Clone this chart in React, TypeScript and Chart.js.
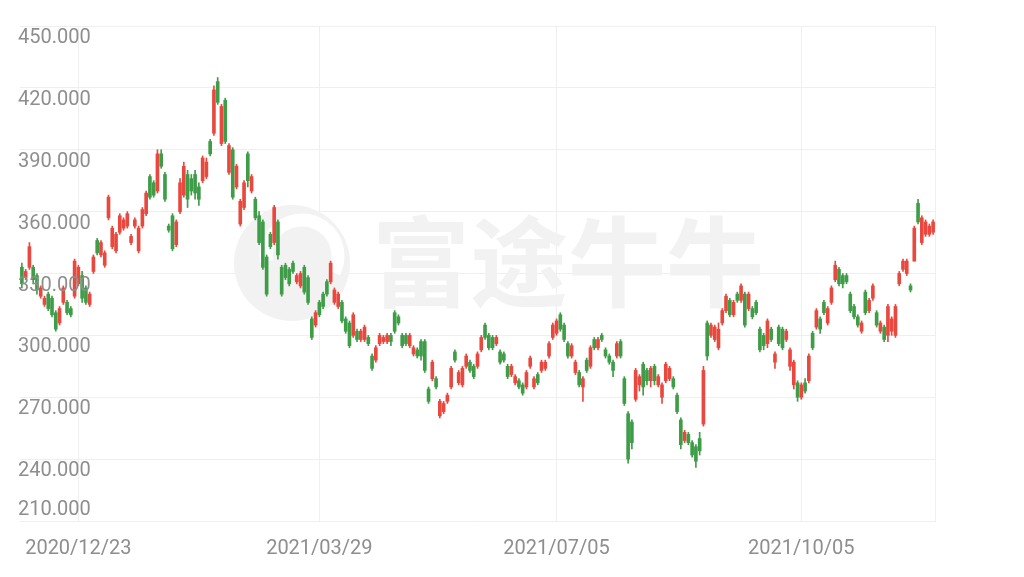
import React, { useEffect, useRef } from 'react';
import { Chart, registerables } from 'chart.js';

Chart.register(...registerables);

// Each candle: [open, close, high, low]
const segA = [
  [333,325,335,323],[328,331,332,327],[333,343,345,332],[333,327,334,325],[329,322,330,320],
  [319,323,324,318],[315,318,319,314],[320,313,321,312],[318,310,319,309],[311,303,312,302],
  [306,313,314,305],[316,323,324,315],[316,311,317,310],[313,310,314,309],[319,336,337,318],
  [325,333,334,324],[329,318,331,316],[323,316,324,315],[315,320,321,314],[331,338,339,330],
  [346,340,347,339],[339,345,346,338],[334,340,341,333],[357,367,368,356],[343,352,353,342],
  [341,349,350,340],[350,358,359,349],[352,356,357,351],[353,359,360,352],[345,348,349,344],
  [353,356,357,352],[341,352,353,340],[353,361,362,352],[359,369,370,358],[377,367,378,366],
  [374,368,375,367],[370,388,390,369],[388,382,390,381],[378,366,379,365],[353,351,354,350],
  [358,342,359,341],
];
const segB = [
  [344,355,356,343],[360,374,376,359],[368,382,384,367],[378,366,380,362],[376,370,378,368],
  [378,369,380,366],[372,366,374,363],[375,386,387,374],[377,384,386,376],[394,388,395,387],
  [398,419,421,397],[423,413,425,412],[393,411,412,392],[414,394,415,393],[379,392,393,378],
  [390,367,391,366],[372,382,383,371],[354,365,366,353],[362,374,375,361],[388,375,389,372],
  [370,377,378,369],[366,357,367,356],[358,345,360,344],[355,333,356,332],[338,320,339,319],
  [349,343,350,342],[345,362,363,344],[355,339,356,337],[333,320,334,319],[334,328,335,327],
  [332,325,333,324],[335,331,336,330],[326,329,330,325],[324,330,331,323],[333,321,334,320],
  [328,316,329,315],[308,299,309,298],[305,311,312,304],[316,310,317,309],[320,314,321,313],
  [326,320,327,319],[326,335,336,325],
];
const segC = [
  [316,322,323,315],[314,320,321,313],[316,307,317,306],[308,302,309,301],[306,295,307,294],
  [300,310,311,299],[302,298,303,297],[298,302,303,297],[298,304,305,297],[299,296,300,295],
  [290,284,291,283],[288,294,295,287],[296,300,301,295],[297,299,300,296],[297,300,301,296],
  [300,297,301,295],[311,302,312,301],[309,306,310,305],[300,295,301,294],[300,296,301,295],
  [295,300,301,294],[291,294,295,290],[293,290,294,289],[297,290,298,288],[297,283,298,282],
  [274,268,275,267],[279,287,288,278],[279,275,280,274],[261,268,269,260],[263,267,268,262],
  [268,271,272,267],[275,284,285,274],[292,288,293,287],[277,282,283,276],[276,284,285,275],
  [285,290,291,284],[287,283,288,282],[285,280,286,279],[285,291,292,284],[293,299,300,292],
  [305,299,306,298],[300,294,301,293],
];
const segD = [
  [299,294,300,293],[296,299,300,295],[292,287,293,286],[291,288,292,287],[285,280,286,279],
  [281,285,286,280],[277,280,281,276],[278,275,279,274],[276,272,277,271],[275,282,283,274],
  [285,289,290,284],[275,279,280,274],[281,277,282,276],[283,287,288,282],[284,287,288,283],
  [290,296,297,289],[299,305,306,298],[301,307,308,300],[310,303,311,302],[305,298,306,297],
  [296,290,297,289],[290,295,296,289],[282,287,288,281],[282,276,283,275],[275,279,280,268],
  [288,283,289,282],[285,294,295,284],[298,294,299,293],[294,298,299,293],[300,298,301,297],
  [293,290,294,289],[290,287,291,286],[287,283,288,280],[290,296,297,289],[297,290,298,289],
  [279,267,280,266],[262,240,263,238],[258,248,259,245],[269,283,284,268],[276,280,281,273],
];
const segE = [
  [286,275,287,271],[283,278,284,276],[278,284,285,275],[285,278,286,276],[276,280,281,275],
  [270,276,277,267],[278,286,287,277],[279,284,285,278],[279,275,280,274],[271,263,272,262],
  [259,247,260,245],[249,253,254,248],[252,248,253,247],[248,242,249,241],[246,239,247,236],
  [250,244,253,242],[257,283,285,256],[306,290,307,288],[300,305,306,299],[298,304,305,297],
  [294,303,306,293],[306,312,313,305],[312,319,320,311],[317,310,318,309],[310,316,317,309],
  [320,317,321,316],[317,324,325,316],[320,305,321,304],[313,320,321,312],[313,309,314,308],
  [316,311,317,310],[303,293,304,292],[300,295,301,293],[296,307,308,294],[303,298,304,297],
  [287,291,292,284],[304,296,305,295],[303,294,304,293],[298,302,303,297],[285,293,294,283],
  [276,287,288,274],
];
const segF = [
  [277,270,278,268],[270,276,277,269],[277,273,279,272],[278,290,291,277],[301,294,302,293],
  [304,312,313,303],[308,303,309,301],[316,311,317,310],[306,313,314,305],[316,323,324,315],
  [327,334,336,326],[332,325,333,324],[329,325,330,323],[329,326,330,325],[320,312,321,311],
  [314,309,315,308],[309,305,310,304],[302,306,307,301],[321,311,322,310],[312,317,318,311],
  [318,324,325,317],[311,305,312,304],[302,306,307,301],[304,298,305,297],[300,314,315,297],
  [302,308,309,300],[300,314,315,299],[325,330,331,324],[332,336,337,331],[330,336,337,329],
  [324,322,325,321],[336,352,353,336],[364,355,366,354],[345,357,358,344],[349,355,356,348],
  [349,353,354,348],[350,355,356,349],
];

const dateLabelIndices = [15, 79, 142, 207];
const dateLabelTexts = ['2020/12/23', '2021/03/29', '2021/07/05', '2021/10/05'];
const yMin = 210;
const yMax = 450;
const yStep = 30;

const RED = '#e8493f';
const GREEN = '#3f9d48';
const GRID = '#efefef';
const TEXT = '#8e8e8e';

export default function App() {
  const ref = useRef<HTMLCanvasElement>(null);

  useEffect(() => {
    const candles = [...segA, ...segB, ...segC, ...segD, ...segE, ...segF];
    const labels = candles.map((_, i) => String(i));
    const colors = candles.map((c) => (c[1] >= c[0] ? RED : GREEN));

    const watermark = {
      id: 'watermark',
      beforeDatasetsDraw(chart: any) {
        const ctx = chart.ctx;
        ctx.save();
        ctx.fillStyle = '#f2f2f2';
        ctx.beginPath();
        ctx.arc(292, 263, 58, 0, Math.PI * 2);
        ctx.fill();
        ctx.strokeStyle = '#ffffff';
        ctx.lineWidth = 13;
        ctx.beginPath();
        ctx.arc(302, 256, 36, Math.PI * 0.95, Math.PI * 2.15);
        ctx.stroke();
        ctx.font = 'bold 98px "Noto Sans CJK SC"';
        ctx.textBaseline = 'middle';
        ctx.textAlign = 'left';
        ctx.fillText('富途牛牛', 372, 262);
        ctx.restore();
      },
    };

    const yLabels = {
      id: 'yLabels',
      afterDatasetsDraw(chart: any) {
        const ctx = chart.ctx;
        const y = chart.scales.y;
        ctx.save();
        ctx.fillStyle = TEXT;
        ctx.font = '20px Roboto';
        ctx.textAlign = 'left';
        ctx.textBaseline = 'middle';
        y.ticks.forEach((t: any) => {
          const py = y.getPixelForValue(t.value);
          const ty = t.value === yMin ? py - 11 : py + 12;
          ctx.fillText(Number(t.value).toFixed(3), 18, ty);
        });
        ctx.restore();
      },
    };

    const chart = new Chart(ref.current as HTMLCanvasElement, {
      type: 'bar',
      data: {
        labels,
        datasets: [
          {
            data: candles.map((c) => [c[3], c[2]]),
            backgroundColor: colors,
            barThickness: 1,
            grouped: false,
            borderSkipped: false,
          } as any,
          {
            data: candles.map((c) => [c[0], c[1]]),
            backgroundColor: colors,
            barThickness: 3,
            grouped: false,
            borderSkipped: false,
          } as any,
        ],
      },
      options: {
        animation: false,
        responsive: false,
        maintainAspectRatio: false,
        layout: { padding: { left: 20, right: 89, top: 26, bottom: 0 } },
        plugins: { legend: { display: false }, tooltip: { enabled: false } },
        scales: {
          x: {
            offset: true,
            grid: {
              offset: false,
              drawTicks: false,
              color: (ctx: any) => (dateLabelIndices.includes(ctx.index) ? GRID : 'rgba(0,0,0,0)'),
            },
            border: { display: false },
            ticks: {
              autoSkip: false,
              maxRotation: 0,
              minRotation: 0,
              padding: 16,
              color: TEXT,
              font: { family: 'Roboto', size: 20 },
              callback: (_v: any, i: number) => {
                const k = dateLabelIndices.indexOf(i);
                return k >= 0 ? dateLabelTexts[k] : '';
              },
            },
          },
          y: {
            position: 'right',
            min: yMin,
            max: yMax,
            ticks: { stepSize: yStep, display: false },
            grid: { color: GRID, drawTicks: false },
            border: { display: true, color: GRID },
          },
        },
      },
      plugins: [watermark, yLabels],
    } as any);
    return () => chart.destroy();
  }, []);

  return (
    <div style={{ position: 'absolute', left: 0, top: 0, width: 1024, height: 577, background: '#ffffff' }}>
      <canvas ref={ref} width={1024} height={577} style={{ display: 'block' }} />
    </div>
  );
}
